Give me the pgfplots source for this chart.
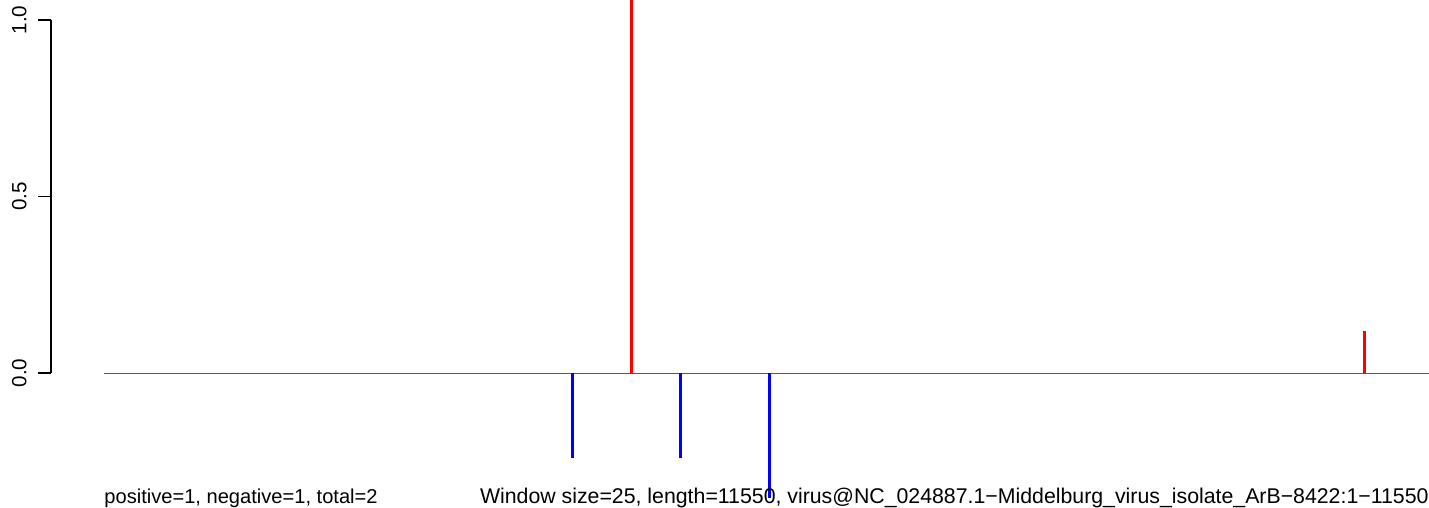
\documentclass[border=0pt]{standalone}
\usepackage{fontspec}
\setmainfont{Liberation Sans}
\usepackage{pgfplots}
\pgfplotsset{compat=1.18}
\definecolor{rblue}{RGB}{0,0,255}
\definecolor{rred}{RGB}{255,0,0}
\newcommand{\rfont}{\fontsize{10.3}{12}\selectfont}
\begin{document}
\begin{tikzpicture}
\path[use as bounding box] (0,0) rectangle (714.5pt,254pt);
% data axis
\begin{axis}[
  at={(52pt,0pt)}, anchor=south west,
  scale only axis, width=662.5pt, height=254pt,
  xmin=0, xmax=11550, ymin=-0.3824, ymax=1.0567,
  hide axis, clip=true,
]
\addplot[black!65, line width=0.5pt] coordinates {(0,0) (11550,0)};
% positive (red)
\addplot[rred, line width=1.5pt] coordinates {(4594,0) (4594,1.10)};
\addplot[rred, line width=1.5pt] coordinates {(10984,0) (10984,0.119)};
% negative (blue)
\addplot[rblue, line width=1.5pt] coordinates {(4088,0) (4088,-0.241)};
\addplot[rblue, line width=1.5pt] coordinates {(5021,0) (5021,-0.241)};
\addplot[rblue, line width=1.5pt] coordinates {(5797,0) (5797,-0.354)};
\end{axis}
% y axis
\begin{axis}[
  at={(25.5pt,67.5pt)}, anchor=south west,
  scale only axis, width=1pt, height=176.5pt,
  xmin=0, xmax=1, ymin=0, ymax=1,
  enlargelimits=false,
  axis x line=none, axis y line*=left,
  axis line style={-, line width=0.75pt, black},
  ytick={0,0.5,1}, yticklabels={0.0,0.5,1.0},
  tick align=outside, major tick length=6.5pt,
  tick style={line width=0.75pt, black},
  yticklabel shift=5.5pt,
  yticklabel style={rotate=90, anchor=south, inner sep=0pt, font=\rfont},
]
\end{axis}
\node[anchor=base west, inner sep=0pt, font=\fontsize{10.05}{12}\selectfont] at (52pt,2pt) {positive=1, negative=1, total=2};
\node[anchor=base east, inner sep=0pt, font=\fontsize{10.65}{12}\selectfont] at (714.5pt,2pt) {Window size=25, length=11550, virus@NC\_024887.1−Middelburg\_virus\_isolate\_ArB−8422:1−11550};
\end{tikzpicture}
\end{document}
